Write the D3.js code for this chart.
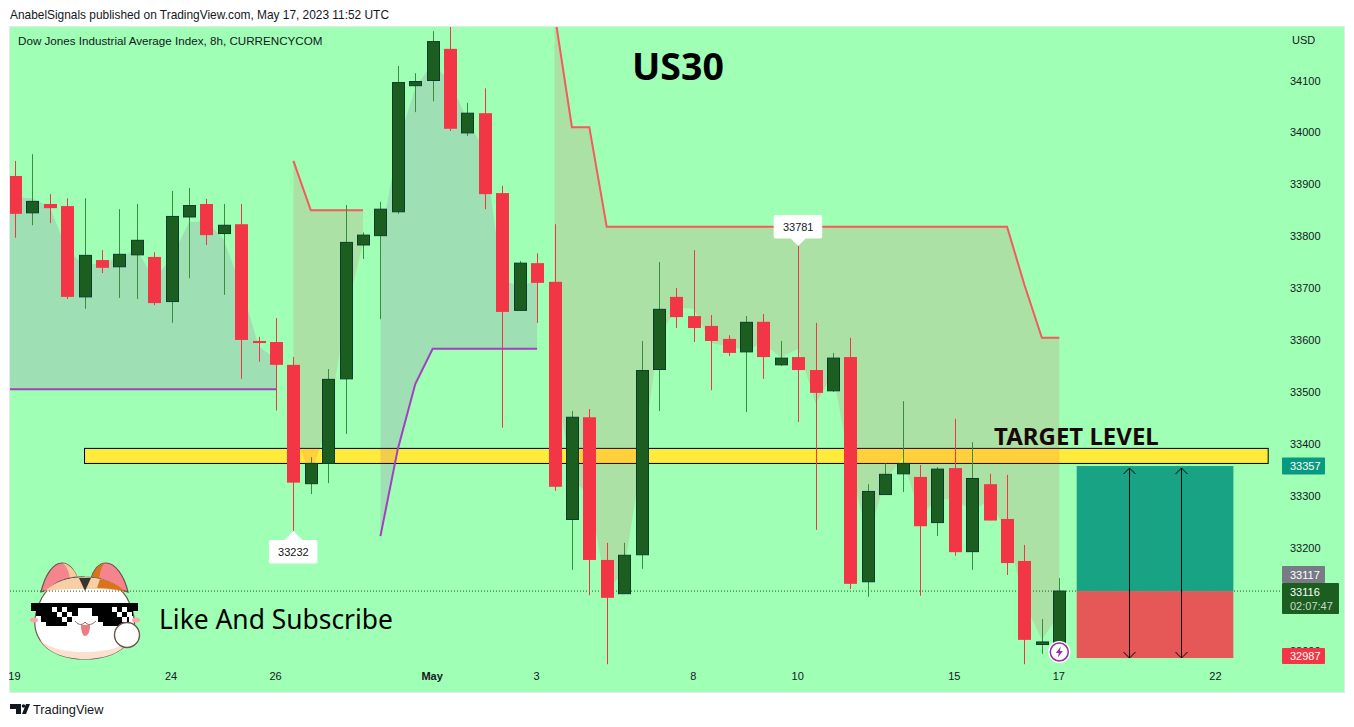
<!DOCTYPE html>
<html>
<head>
<meta charset="utf-8">
<title>US30</title>
<script src="https://cdn.jsdelivr.net/npm/d3@7"></script>
<style>
  html, body { margin: 0; padding: 0; background: #fff; overflow: hidden; }
  svg { display: block; }
  text { font-family: "Liberation Sans", Arial, sans-serif; }
</style>
</head>
<body>
<svg id="chart" width="1354" height="727"></svg>
<script>
// candles, index 0 = Apr 19 first 8h bar
const opens = [33916, 33845, 33862, 33858, 33683, 33754, 33741, 33764, 33760, 33674, 33837, 33862, 33805, 33823, 33598, 33596,
  33552, 33323, 33362, 33525, 33783, 33801, 33847, 34090, 34100, 34161, 33999, 34037, 33883, 33657, 33748,
  33712, 33254, 33451, 33176, 33111, 33186, 33543, 33683, 33646, 33627, 33602, 33577, 33635, 33552, 33567, 33542, 33502, 33567,
  33134, 33302, 33342, 33336, 33248, 33353, 33192, 33322, 33255, 33174, 33013, 33016];
const highs = [33945, 33958, 33881, 33873, 33873, 33773, 33852, 33862, 33769, 33887, 33893, 33872, 33862, 33862, 33606, 33642,
  33567, 33374, 33544, 33860, 33807, 33866, 34128, 34114, 34195, 34216, 34057, 34085, 33897, 33752, 33767,
  33823, 33463, 33467, 33209, 33209, 33598, 33750, 33700, 33773, 33648, 33609, 33646, 33650, 33598, 33781, 33633, 33575, 33604,
  33322, 33362, 33482, 33359, 33355, 33448, 33403, 33342, 33340, 33205, 33062, 33141];
const lows = [33797, 33821, 33825, 33679, 33660, 33729, 33681, 33679, 33667, 33633, 33719, 33783, 33687, 33525, 33558, 33464,
  33232, 33303, 33324, 33419, 33756, 33640, 33843, 34039, 34060, 34003, 33993, 33852, 33431, 33657, 33633,
  33309, 33157, 33108, 32975, 33111, 33159, 33463, 33623, 33596, 33503, 33569, 33461, 33525, 33550, 33442, 33234, 33500, 33120,
  33105, 33302, 33307, 33107, 33222, 33184, 33157, 33252, 33147, 32975, 32995, 33016];
const closes = [33843, 33867, 33854, 33683, 33763, 33739, 33765, 33792, 33671, 33838, 33859, 33802, 33821, 33600, 33594, 33552,
  33325, 33362, 33524, 33788, 33802, 33852, 34096, 34098, 34175, 34007, 34037, 33881, 33654, 33748, 33710,
  33317, 33451, 33176, 33103, 33185, 33541, 33659, 33644, 33623, 33598, 33575, 33634, 33567, 33565, 33542, 33498, 33565, 33130,
  33308, 33341, 33362, 33241, 33351, 33191, 33333, 33252, 33170, 33022, 33018, 33116];

// hidden mid line the supertrend clouds are filled to
// trend arrays start one bar earlier (index -1, off the left edge of the pane)
const trendMid = [33880, 33875, 33873, 33856, 33773, 33744, 33748, 33760, 33774, 33717, 33758, 33827, 33829, 33793, 33702, 33588, 33563,
  33419, 33341, 33439, 33648, 33787, 33790, 33978, 34085, 34134, 34097, 34024, 33964, 33715, 33704, 33714,
  33540, 33331, 33301, 33116, 33154, 33370, 33604, 33662, 33660, 33594, 33588, 33580, 33594, 33566, 33583, 33477, 33535, 33355,
  33217, 33329, 33373, 33261, 33293, 33293, 33271, 33291, 33228, 33094, 33022, 33072];

const n = null;
const supportLine = [33505, 33505, 33505, 33505, 33505, 33505, 33505, 33505, 33505, 33505, 33505, 33505, 33505, 33505, 33505, 33505, 33505,
  n, n, n, n, n, 33222, 33390, 33515, 33583, 33583, 33583, 33583, 33583, 33583, 33583,
  n, n, n, n, n, n, n, n, n, n, n, n, n, n, n, n, n, n, n, n, n, n, n, n, n, n, n, n, n, n, n];
const resistLine = [n, n, n, n, n, n, n, n, n, n, n, n, n, n, n, n, n,
  33945, 33850, 33850, 33850, 33850, n, n, n, n, n, n, n, n, n, n,
  34230, 34010, 34010, 33818, 33818, 33818, 33818, 33818, 33818, 33818, 33818, 33818, 33818, 33818, 33818, 33818, 33818, 33818,
  33818, 33818, 33818, 33818, 33818, 33818, 33818, 33818, 33818, 33706, 33604, 33604];

const priceTicks = [34100, 34000, 33900, 33800, 33700, 33600, 33500, 33400, 33300, 33200, 33000];
const timeTicks = [0, 9, 15, 24, 30, 39, 45, 54, 60, 69];
const timeLabels = ['19', '24', '26', 'May', '3', '8', '10', '15', '17', '22'];

const targetBand = { from: 4, to: 72, top: 33391, bottom: 33362 };
const position = { from: 61, to: 70, target: 33357, entry: 33116, stop: 32987 };
const arrowBars = [64, 67];
const lastClose = 33116;

const bg = '#9fffb5';
const upBody = '#1b5e20';
const upBorder = '#0b3d2e';
const upWick = '#388e3c';
const downColor = '#f23645';

const svg = d3.select('#chart');
const x = d3.scaleLinear().domain([0, 60]).range([14.9, 1059.3]);
const y = d3.scaleLinear().domain([34100, 33200]).range([80.5, 547.5]);

// pane
svg.append('rect').attr('x', 9.5).attr('y', 26.5).attr('width', 1335).attr('height', 666)
  .attr('fill', bg).attr('stroke', '#e6e8ee');
const defs = svg.append('defs');
defs.append('clipPath').attr('id', 'pane').append('rect')
  .attr('x', 10).attr('y', 27).attr('width', 1270).attr('height', 665);
const pane = svg.append('g').attr('clip-path', 'url(#pane)');

// cat sticker
const cat = pane.append('g');
const outline = '#6b5550';
cat.append('path').attr('d', 'M41,592C45,575 53,563 62,563C70,563 76,572 78,581Z').attr('fill', '#f4858e').attr('stroke', outline).attr('stroke-width', 1.2);
cat.append('path').attr('d', 'M63,563C71,565 76,572 78,580L70,582C70,573 67,567 63,563Z').attr('fill', '#f6cc9e');
cat.append('path').attr('d', 'M128,592C124,575 115,563 106,563C98,563 93,571 91,579Z').attr('fill', '#f4858e').attr('stroke', outline).attr('stroke-width', 1.2);
cat.append('path').attr('d', 'M105,563C97,565 93,572 91,579L99,581C100,572 101,567 105,563Z').attr('fill', '#d9731c');
cat.append('path').attr('d', 'M85,577C58,576 44,590 39,604C34,616 32,628 40,640C48,653 66,659 85,659C104,659 122,653 130,640C138,628 134,612 129,602C124,590 110,577 85,577Z')
  .attr('fill', '#fff').attr('stroke', outline).attr('stroke-width', 1.2);
cat.append('path').attr('d', 'M40,640C48,653 66,659 85,659C104,659 122,653 130,640C118,650 100,652 85,652C68,652 52,650 40,640Z').attr('fill', '#fbe0cf');
cat.append('path').attr('d', 'M44,592C56,580 70,577.5 85,577.5C100,577.5 114,581 125,592C112,589 100,589 84,589C70,589 56,589 44,592Z').attr('fill', '#f7cfa4');
cat.append('path').attr('d', 'M100,579C112,581 120,586 125,592C116,589 106,588 97,588Z').attr('fill', '#d9731c');
cat.append('path').attr('d', 'M79,578H91L85,591Z').attr('fill', '#3a3330');
cat.append('ellipse').attr('cx', 34).attr('cy', 620).attr('rx', 4).attr('ry', 2.5).attr('fill', '#f9a6a6');
cat.append('ellipse').attr('cx', 136).attr('cy', 620).attr('rx', 4).attr('ry', 2.5).attr('fill', '#f9a6a6');
cat.append('path').attr('d', 'M31,603H138V611H133V616H129V622H124V626H103V622H98V616H92V608H78V616H72V622H67V626H46V622H41V616H36V611H31Z').attr('fill', '#000');
[[52, 607], [62, 607], [57, 612], [67, 612], [62, 617], [112, 607], [122, 607], [117, 612], [127, 612], [122, 617]]
  .forEach((p) => cat.append('rect').attr('x', p[0]).attr('y', p[1]).attr('width', 5).attr('height', 5).attr('fill', '#fff'));
cat.append('path').attr('d', 'M75,621C79,626 83,625 85,622C87,625 91,626 96,621').attr('fill', 'none').attr('stroke', '#8a6a60').attr('stroke-width', 1);
cat.append('path').attr('d', 'M81,625H90C90,632 88,636 85,636C83,636 81,632 81,625Z').attr('fill', '#ef7a80');
cat.append('circle').attr('cx', 127).attr('cy', 635).attr('r', 12.5).attr('fill', '#fff').attr('stroke', outline).attr('stroke-width', 1.4);

// target level bar sits under the indicator
pane.append('rect')
  .attr('x', x(targetBand.from)).attr('y', y(targetBand.top))
  .attr('width', x(targetBand.to) - x(targetBand.from)).attr('height', y(targetBand.bottom) - y(targetBand.top))
  .attr('fill', '#ffeb3b').attr('stroke', '#000').attr('stroke-width', 1);

// supertrend clouds
const cloud = (trend) => d3.area()
  .defined((d, i) => trend[i] !== null)
  .x((d, i) => x(i - 1))
  .y0((d, i) => y(trend[i]))
  .y1((d) => y(d));
pane.append('path').attr('d', cloud(supportLine)(trendMid)).attr('fill', '#9c27b0').attr('fill-opacity', 0.15);
pane.append('path').attr('d', cloud(resistLine)(trendMid)).attr('fill', '#f23645').attr('fill-opacity', 0.15);

const trendLine = d3.line().defined((d) => d !== null).x((d, i) => x(i - 1)).y((d) => y(d));
pane.append('path').attr('d', trendLine(supportLine)).attr('fill', 'none')
  .attr('stroke', '#a63fbf').attr('stroke-width', 2);
pane.append('path').attr('d', trendLine(resistLine)).attr('fill', 'none')
  .attr('stroke', '#f55a5e').attr('stroke-width', 2);

// last price dotted line
pane.append('line').attr('x1', 10).attr('x2', 1280).attr('y1', y(lastClose)).attr('y2', y(lastClose))
  .attr('stroke', '#1b5e20').attr('stroke-dasharray', '1 2');

// candles
const candles = pane.append('g').selectAll('g').data(opens).join('g');
candles.append('line')
  .attr('x1', (d, i) => Math.round(x(i)) + 0.5).attr('x2', (d, i) => Math.round(x(i)) + 0.5)
  .attr('y1', (d, i) => y(highs[i])).attr('y2', (d, i) => y(lows[i]))
  .attr('stroke', (d, i) => (closes[i] >= opens[i] ? upWick : downColor));
candles.append('rect')
  .attr('x', (d, i) => Math.round(x(i)) - 6 + (closes[i] >= opens[i] ? 0.5 : 0))
  .attr('y', (d, i) => y(Math.max(opens[i], closes[i])))
  .attr('width', (d, i) => (closes[i] >= opens[i] ? 12 : 13))
  .attr('height', (d, i) => Math.max(1, Math.abs(y(opens[i]) - y(closes[i]))))
  .attr('fill', (d, i) => (closes[i] >= opens[i] ? upBody : downColor))
  .attr('stroke', (d, i) => (closes[i] >= opens[i] ? upBorder : 'none'));

// long position tool
const posX0 = x(position.from);
const posW = x(position.to) - x(position.from);
pane.append('rect').attr('x', posX0).attr('y', y(position.target)).attr('width', posW)
  .attr('height', y(position.entry) - y(position.target)).attr('fill', '#18a385');
pane.append('rect').attr('x', posX0).attr('y', y(position.entry)).attr('width', posW)
  .attr('height', y(position.stop) - y(position.entry)).attr('fill', '#e65858');
arrowBars.forEach((b) => {
  const ax = Math.round(x(b)) + 0.5;
  const top = y(position.target) + 2;
  const bot = y(position.stop);
  pane.append('line').attr('x1', ax).attr('x2', ax).attr('y1', top).attr('y2', bot).attr('stroke', '#000');
  pane.append('path').attr('d', `M${ax - 6},${top + 6}L${ax},${top}L${ax + 6},${top + 6}M${ax - 6},${bot - 6}L${ax},${bot}L${ax + 6},${bot - 6}`)
    .attr('fill', 'none').attr('stroke', '#000');
});

// high and low bubbles
const bubble = (bar, price, above) => {
  const px = x(bar);
  const py = y(price);
  const dir = above ? -1 : 1;
  const g = svg.append('g');
  const boxY = above ? py - 31 : py + 9;
  g.append('rect').attr('x', px - 24.5).attr('y', boxY).attr('width', 48.5).attr('height', 23.5).attr('rx', 2).attr('fill', '#fff');
  g.append('path').attr('d', `M${px - 9},${py + dir * 9}L${px},${py}L${px + 9},${py + dir * 9}Z`).attr('fill', '#fff');
  g.append('text').attr('x', px).attr('y', boxY + 16).attr('text-anchor', 'middle')
    .attr('font-size', 11).attr('fill', '#131722').text(price);
};
bubble(45, highs[45], true);
bubble(16, lows[16], false);

// axes
const yAxis = svg.append('g').attr('transform', 'translate(1290,0)')
  .call(d3.axisRight(y).tickValues(priceTicks).tickSize(0).tickPadding(0).tickFormat(d3.format('d')));
yAxis.select('.domain').remove();
yAxis.selectAll('text').attr('font-size', 11).attr('fill', '#131722').style('font-family', '"Liberation Sans", Arial, sans-serif');

const xAxis = svg.append('g').attr('transform', 'translate(-1,672)')
  .call(d3.axisBottom(x).tickValues(timeTicks).tickSize(0).tickPadding(0).tickFormat((d, i) => timeLabels[i]));
xAxis.select('.domain').remove();
xAxis.selectAll('text').attr('font-size', 11).attr('fill', '#131722')
  .attr('font-weight', (d, i) => (timeLabels[i] === 'May' ? 'bold' : 'normal'))
  .style('font-family', '"Liberation Sans", Arial, sans-serif');

svg.append('text').attr('x', 1292).attr('y', 44).attr('font-size', 11).attr('fill', '#131722').text('USD');

// price tags on the scale
const tag = (cy, h, fill, label) => {
  svg.append('rect').attr('x', 1282).attr('y', cy - h / 2).attr('width', 43).attr('height', h).attr('rx', 1).attr('fill', fill);
  svg.append('text').attr('x', 1290).attr('y', cy + 4).attr('font-size', 11).attr('fill', '#fff').text(label);
};
tag(y(33357), 17, '#089981', '33357');
tag(656, 16, '#f23645', '32987');
tag(574.5, 17, '#787b86', '33117');
svg.append('rect').attr('x', 1282).attr('y', 583).attr('width', 57).attr('height', 31).attr('rx', 1).attr('fill', upBody);
svg.append('text').attr('x', 1290).attr('y', 596).attr('font-size', 11).attr('fill', '#fff').text('33116');
svg.append('text').attr('x', 1290).attr('y', 610).attr('font-size', 11).attr('fill', '#c8d8ca').text('02:07:47');

// lightning badge on the last bar
const badge = svg.append('g').attr('transform', `translate(${x(60)},652)`);
badge.append('circle').attr('r', 11).attr('fill', '#fff');
badge.append('circle').attr('r', 9).attr('fill', '#fff').attr('stroke', '#9c27b0').attr('stroke-width', 1.5);
badge.append('path').attr('d', 'M1.5,-5.5L-3.5,1H-0.5L-1.5,5.5L3.5,-1H0.5Z').attr('fill', '#9c27b0');

// annotations
svg.append('text').attr('x', 10).attr('y', 19).attr('font-size', 11.9).attr('fill', '#131722')
  .text('AnabelSignals published on TradingView.com, May 17, 2023 11:52 UTC');
svg.append('text').attr('x', 18).attr('y', 45).attr('font-size', 11.65).attr('fill', '#131722')
  .text('Dow Jones Industrial Average Index, 8h, CURRENCYCOM');
svg.append('text').attr('x', 632).attr('y', 80).attr('font-size', 37.5).attr('font-weight', 'bold').attr('fill', '#000')
  .style('font-family', '"Noto Sans"').text('US30');
svg.append('text').attr('x', 994).attr('y', 445).attr('font-size', 24).attr('font-weight', 'bold').attr('fill', '#1a0808')
  .style('font-family', '"Noto Sans"').text('TARGET LEVEL');
svg.append('text').attr('x', 159).attr('y', 629).attr('font-size', 26.4).attr('fill', '#000')
  .style('font-family', '"Noto Sans"').text('Like And Subscribe');

// footer logo
svg.append('path').attr('d', 'M10,704H21V714H16V709H10ZM22,714L26,704H30L26,714Z').attr('fill', '#131722');
svg.append('circle').attr('cx', 23.5).attr('cy', 706).attr('r', 1.8).attr('fill', '#131722');
svg.append('text').attr('x', 33).attr('y', 714).attr('font-size', 12.8).attr('fill', '#131722').text('TradingView');
</script>
</body>
</html>
